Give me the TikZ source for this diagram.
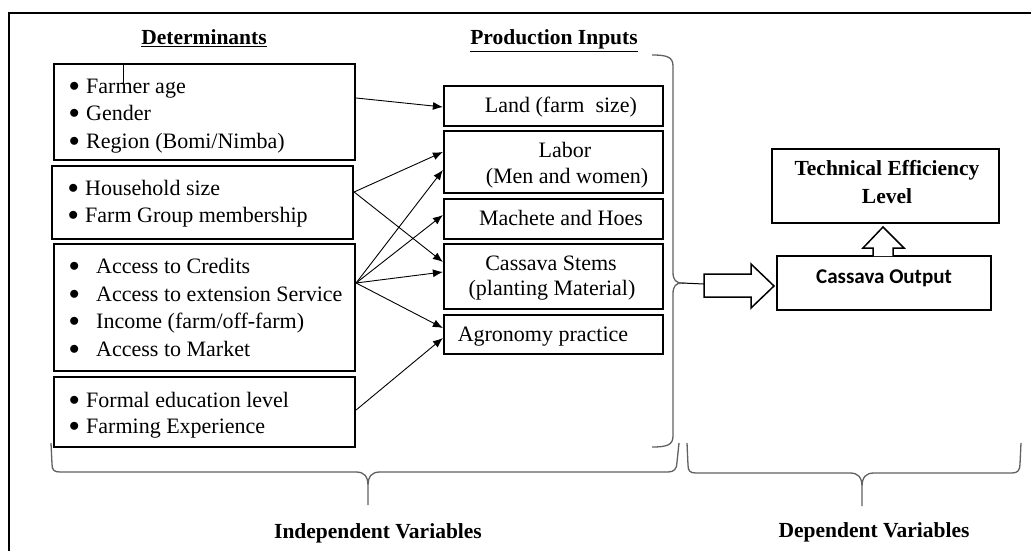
\documentclass[tikz,border=0pt]{standalone}
\usepackage{fontspec}
\setmainfont{Liberation Serif}
\newfontfamily\calib{Carlito}
\usetikzlibrary{arrows.meta,calc}
\newcommand\mybul{\makebox[17pt][l]{\raisebox{2pt}{$\bullet$}}}
\newcommand\mybulw{\makebox[27pt][l]{\raisebox{2pt}{$\bullet$}}}
\begin{document}
\begin{tikzpicture}[x=1pt,y=-1pt,
  box/.style={draw,line width=2.2pt,inner sep=0pt},
  conn/.style={line width=0.9pt,-{Latex[length=10pt,width=8pt]}},
  brace/.style={draw=black!62,line width=1.3pt},
  txt/.style={inner sep=0pt,font=\fontsize{22}{26}\selectfont},
  btxt/.style={inner sep=0pt,font=\fontsize{21.5}{26}\selectfont\bfseries},
  blockarrow/.style={draw,fill=white,line width=1.5pt,line join=miter},
  frame/.style={line width=2.2pt}]
\useasboundingbox (0,0) rectangle (1031,551);
% frame
\draw[frame] (9,551) -- (9,13) -- (1031,13);
% headings
\node[btxt,anchor=base] (hdet) at (204,45) {\underline{Determinants}};
\node[btxt,anchor=base] (hprod) at (554,45) {\underline{Production Inputs}};
% determinant boxes
\node[box,minimum width=301pt,minimum height=96pt] (d1) at (204.5,112) {};
\node[box,minimum width=301pt,minimum height=73pt] (d2) at (202.5,202.5) {};
\node[box,minimum width=301pt,minimum height=127pt] (d3) at (204.5,307.5) {};
\node[box,minimum width=301pt,minimum height=70pt] (d4) at (204.5,412) {};
% determinant texts
\node[txt,anchor=base west] (t11) at (69,93.5) {\mybul Farmer age};
\node[txt,anchor=base west] (t12) at (69,121) {\mybul Gender};
\node[txt,anchor=base west] (t13) at (69,148.5) {\mybul Region (Bomi/Nimba)};
\node[txt,anchor=base west] (t21) at (68,195) {\mybul Household size};
\node[txt,anchor=base west] (t22) at (68,222) {\mybul Farm Group membership};
\node[txt,anchor=base west] (t31) at (69,273) {\mybulw Access to Credits};
\node[txt,anchor=base west] (t32) at (69,301) {\mybulw Access to extension Service};
\node[txt,anchor=base west] (t33) at (69,328.5) {\mybulw Income (farm/off-farm)};
\node[txt,anchor=base west] (t34) at (69,356) {\mybulw Access to Market};
\node[txt,anchor=base west] (t41) at (69,407) {\mybul Formal education level};
\node[txt,anchor=base west] (t42) at (69,433.5) {\mybul Farming Experience};
% small stray mark
\coordinate (m1) at (123,63);
\coordinate (m2) at (123,83);
\draw[line width=0.8pt] (m1) -- (m2);
% production input boxes
\node[box,minimum width=219pt,minimum height=40pt] (land) at (553.5,106) {};
\node[box,minimum width=219pt,minimum height=62pt] (labor) at (553.5,162) {};
\node[box,minimum width=219pt,minimum height=40pt] (mach) at (553.5,219) {};
\node[box,minimum width=219pt,minimum height=65pt] (cass) at (553.5,276.5) {};
\node[box,minimum width=219pt,minimum height=39pt] (agro) at (553.5,334.5) {};
\node[txt,anchor=base] (lt1) at (561,113) {Land (farm\ \ size)};
\node[txt,anchor=base] (lt2) at (565,157) {Labor};
\node[txt,anchor=base] (lt3) at (567,183) {(Men and women)};
\node[txt,anchor=base] (lt4) at (561,225) {Machete and Hoes};
\node[txt,anchor=base] (lt5) at (551,270) {Cassava Stems};
\node[txt,anchor=base] (lt6) at (552,295) {(planting Material)};
\node[txt,anchor=base] (lt7) at (543,341) {Agronomy practice};
% connectors
\draw[conn] ($(d1.east)+(0,-14)$) -- ($(land.west)+(0,1)$);
\draw[conn] ($(d2.east)+(0,-10.5)$) -- ($(labor.west)+(0,-10)$);
\draw[conn] ($(d2.east)+(0,-10.5)$) -- ($(cass.west)+(0,-14.5)$);
\draw[conn] ($(d3.east)+(0,-24.5)$) -- ($(labor.west)+(0,8)$);
\draw[conn] ($(d3.east)+(0,-24.5)$) -- ($(mach.west)+(0,-4)$);
\draw[conn] ($(d3.east)+(0,-24.5)$) -- ($(cass.west)+(0,-4.5)$);
\draw[conn] ($(d3.east)+(0,-24.5)$) -- ($(agro.west)+(0,-6.5)$);
\draw[conn] ($(d4.east)+(0,-2)$) -- ($(agro.west)+(0,3.5)$);
% right vertical brace
\draw[brace] (652,55) .. controls (667,55) and (673,57) .. (673,66) -- (673,272)
  .. controls (673,280) and (676,283) .. (682,283)
  .. controls (676,283) and (673,286) .. (673,294) -- (673,436)
  .. controls (673,445) and (667,447) .. (652,447);
% bottom braces
\draw[brace] (51,443) -- (52,464) .. controls (52,470) and (54,472) .. (60,472) -- (356,472)
  .. controls (364,472) and (368,476) .. (368,486) -- (368,505)
  -- (368,486) .. controls (368,476) and (372,472) .. (380,472) -- (668,472)
  .. controls (674,472) and (677,469) .. (677,462) -- (679,443);
\draw[brace] (687,443) -- (688,465) .. controls (688,471) and (690,473) .. (696,473) -- (850,473)
  .. controls (858,473) and (862,477) .. (862,487) -- (862,506)
  -- (862,487) .. controls (862,477) and (866,473) .. (874,473) -- (1012,473)
  .. controls (1018,473) and (1020,470) .. (1020,464) -- (1021,443);
\node[btxt,anchor=base] (indep) at (378,538) {Independent Variables};
\node[btxt,anchor=base] (dep) at (874,537) {Dependent Variables};
% dependent boxes
\node[box,minimum width=227pt,minimum height=74pt] (te) at (885.5,186) {};
\node[btxt,anchor=base] (te1) at (887,175) {Technical Efficiency};
\node[btxt,anchor=base] (te2) at (887,203) {Level};
\node[box,minimum width=214pt,minimum height=54pt] (co) at (884,283) {};
\node[inner sep=0pt,anchor=base,font=\fontsize{21}{26}\selectfont\calib\bfseries] (co1) at (884,283) {Cassava Output};
% link from brace to block arrow
\coordinate (bcusp) at (682,283);
\coordinate (barr) at (704,284);
\draw[line width=1pt] (bcusp) -- (barr);
% block arrows
\draw[blockarrow] (704,274) -- (751,274) -- (751,264) -- (774,286) -- (751,308) -- (751,297) -- (704,297) -- cycle;
\draw[blockarrow] (873,256) -- (873,248) -- (863,248) -- (883,227) -- (904,248) -- (893,248) -- (893,256);
\end{tikzpicture}
\end{document}
